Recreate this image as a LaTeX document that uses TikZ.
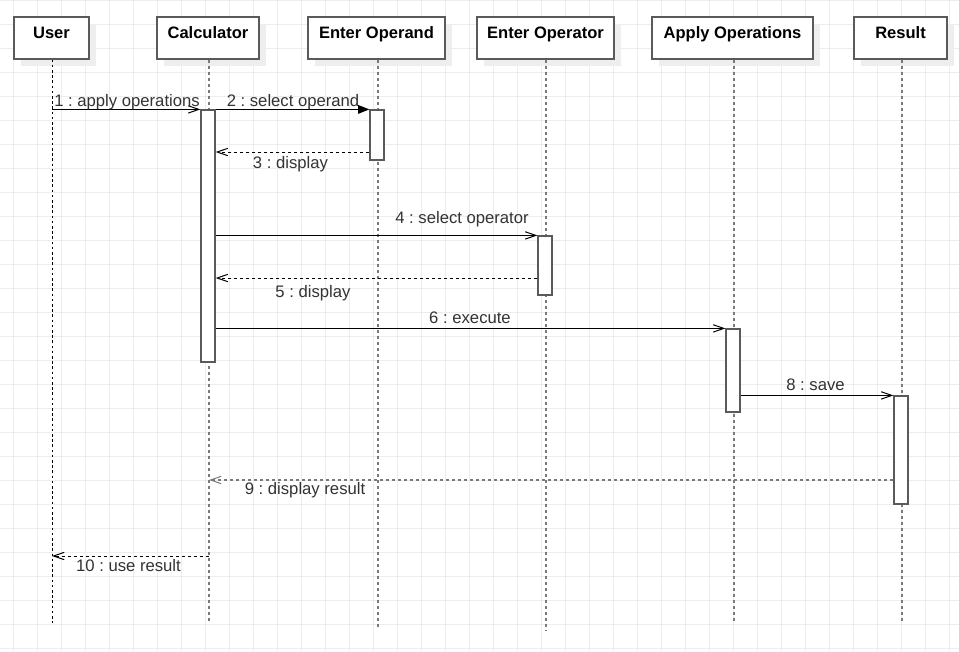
\documentclass[tikz,border=0pt]{standalone}
\usepackage{fontspec}
\setmainfont{Liberation Sans}
\usetikzlibrary{arrows.meta}
\definecolor{gridc}{HTML}{EDEDED}
\definecolor{boxc}{HTML}{5A5A5A}
\definecolor{shadowc}{HTML}{EEEEEE}
\definecolor{lifec}{HTML}{7A7A7A}
\definecolor{txtc}{HTML}{333333}
\frenchspacing
\begin{document}
\begin{tikzpicture}[x=0.75pt,y=-0.75pt,
  headbox/.style={draw=boxc, line width=0.9pt, fill=white, minimum height=42*0.75pt, inner sep=0pt},
  headtxt/.style={anchor=base, inner sep=0pt, text=black, font=\fontsize{12.4}{15}\selectfont\bfseries},
  lifeg/.style={draw=lifec, line width=0.9pt, dash pattern=on 3*0.75pt off 3*0.75pt},
  lifek/.style={draw=black, line width=0.75pt, dash pattern=on 2.6*0.75pt off 2.6*0.75pt},
  actbox/.style={draw=boxc, line width=0.9pt, fill=white, inner sep=0pt, minimum width=14*0.75pt},
  msg/.style={draw=black, line width=0.75pt, -{Straight Barb[length=8pt,width=5.5pt,line width=0.75pt]}},
  msgfill/.style={draw=black, line width=0.75pt, -{Triangle[length=8.5pt,width=6.5pt]}},
  ret/.style={msg, dash pattern=on 3*0.75pt off 3*0.75pt},
  retg/.style={msg, draw=lifec, line width=0.9pt, dash pattern=on 3*0.75pt off 3*0.75pt},
  lbl/.style={anchor=base, inner sep=0pt, text=txtc, font=\fontsize{12.5}{15}\selectfont}
]
\useasboundingbox (0,0) rectangle (959,651);
\fill[white] (0,0) rectangle (959,651);
% grid
\foreach \k in {0,...,39} \draw[gridc, line width=0.75pt] ({13.3+24*\k},0) -- ({13.3+24*\k},651);
\foreach \k in {0,...,27} \draw[gridc, line width=0.75pt] (0,{0.7+24*\k}) -- (959,{0.7+24*\k});
% headers
\foreach \n/\cx/\w/\t in {user/51.5/75/User, calc/208/102/Calculator, opd/376.5/137/Enter Operand, opt/545.5/137/Enter Operator, app/732.5/161/Apply Operations, res/900.5/93/Result}{
  \fill[shadowc] ({\cx-\w/2+7},24) rectangle ({\cx+\w/2+7},66);
  \node[headbox, minimum width=\w*0.75pt] (\n Box) at (\cx,38) {};
  \node[headtxt] (\n Txt) at (\cx,38.5) {\t};
}
% lifeline ends
\coordinate (userEnd) at (52,623);
\coordinate (calcEnd) at (209,623);
\coordinate (opdEnd) at (378,629);
\coordinate (optEnd) at (546,630);
\coordinate (appEnd) at (734,622);
\coordinate (resEnd) at (902,622);
\draw[lifek] (userBox.south -| userEnd) -- (userEnd);
\draw[lifeg] (calcBox.south -| calcEnd) -- (calcEnd);
\draw[lifeg] (opdBox.south -| opdEnd) -- (opdEnd);
\draw[lifeg] (optBox.south -| optEnd) -- (optEnd);
\draw[lifeg] (appBox.south -| appEnd) -- (appEnd);
\draw[lifeg] (resBox.south -| resEnd) -- (resEnd);
% activations
\node[actbox, minimum height=252*0.75pt] (calcAct) at (208,236) {};
\node[actbox, minimum height=50*0.75pt] (opdAct) at (377,135) {};
\node[actbox, minimum height=59*0.75pt] (optAct) at (545,265.5) {};
\node[actbox, minimum height=83*0.75pt] (appAct) at (733,370.5) {};
\node[actbox, minimum height=108*0.75pt] (resAct) at (901,450) {};
% message rows
\coordinate (m3) at (0,152);
\coordinate (m5) at (0,278);
\coordinate (m9) at (0,480);
\coordinate (m10) at (0,556);
% messages
\draw[msg] (userEnd |- calcAct.north) -- (calcAct.north west);
\draw[msgfill] (calcAct.north east) -- (opdAct.north west);
\draw[ret] (opdAct.west |- m3) -- (calcAct.east |- m3);
\draw[msg] (calcAct.east |- optAct.north) -- (optAct.north west);
\draw[ret] (optAct.west |- m5) -- (calcAct.east |- m5);
\draw[msg] (calcAct.east |- appAct.north) -- (appAct.north west);
\draw[msg] (appAct.east |- resAct.north) -- (resAct.north west);
\draw[retg] (resAct.west |- m9) -- (calcEnd |- m9);
\draw[ret] (calcEnd |- m10) -- (userEnd |- m10);
% labels
\node[lbl, anchor=base west] (l1) at (54,106) {1 : apply operations};
\node[lbl] (l2) at (293,106) {2 : select operand};
\node[lbl] (l3) at (290.5,168) {3 : display};
\node[lbl] (l4) at (462,223) {4 : select operator};
\node[lbl] (l5) at (313,297.5) {5 : display};
\node[lbl] (l6) at (470,323) {6 : execute};
\node[lbl] (l8) at (815.5,390.5) {8 : save};
\node[lbl] (l9) at (305,494) {9 : display result};
\node[lbl] (l10) at (128.5,571) {10 : use result};
\end{tikzpicture}
\end{document}
